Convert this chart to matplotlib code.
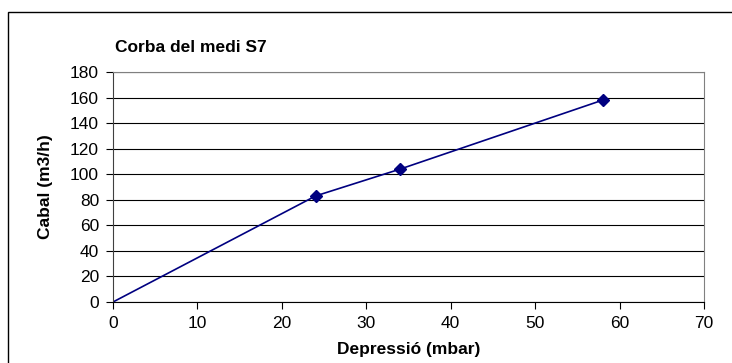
import matplotlib.pyplot as plt
from matplotlib.patches import Rectangle

# dades
depressio = [0, 24, 34, 58]
cabal = [0, 83, 104, 158]
xticks = [0, 10, 20, 30, 40, 50, 60, 70]
yticks = [0, 20, 40, 60, 80, 100, 120, 140, 160, 180]

plt.rcParams['font.family'] = ['Liberation Sans', 'DejaVu Sans']

fig = plt.figure(figsize=(7.32, 3.63), dpi=100)
W, H = 732, 363
ax = fig.add_axes([113 / W, 1 - 302 / H, (704 - 113) / W, (302 - 72) / H])

# vora del grafic (Excel)
fig.patches.append(Rectangle((8 / W, -0.1), 1.2, 1.1 - 12 / H, transform=fig.transFigure,
                             fill=False, edgecolor='black', lw=1.0))

ax.plot(depressio, cabal, color='#000080', lw=1.2)
ax.plot(depressio[1:], cabal[1:], 'D', color='#000080', ms=6)

ax.set_xlim(0, 70)
ax.set_ylim(0, 180)
ax.set_xticks(xticks)
ax.set_yticks(yticks)
ax.tick_params(labelsize=12.5, length=5, width=0.8, direction='out', colors='black')
ax.tick_params(axis='y', pad=5)
ax.tick_params(axis='x', pad=5)
ax.yaxis.grid(True, color='black', lw=0.8)
ax.set_axisbelow(True)

for s in ['top', 'right']:
    ax.spines[s].set_color('#808080')
ax.spines['left'].set_color('#404040')
ax.spines['bottom'].set_color('black')

ax.set_xlabel('Depressió (mbar)', fontsize=12.5, fontweight='bold', labelpad=8)
ax.set_ylabel('Cabal (m3/h)', fontsize=12.5, fontweight='bold', labelpad=12)
fig.text(115 / W, 1 - 47 / H, 'Corba del medi S7', fontsize=12.5, fontweight='bold',
         va='center', ha='left')

fig.savefig('out.png', dpi=100)
